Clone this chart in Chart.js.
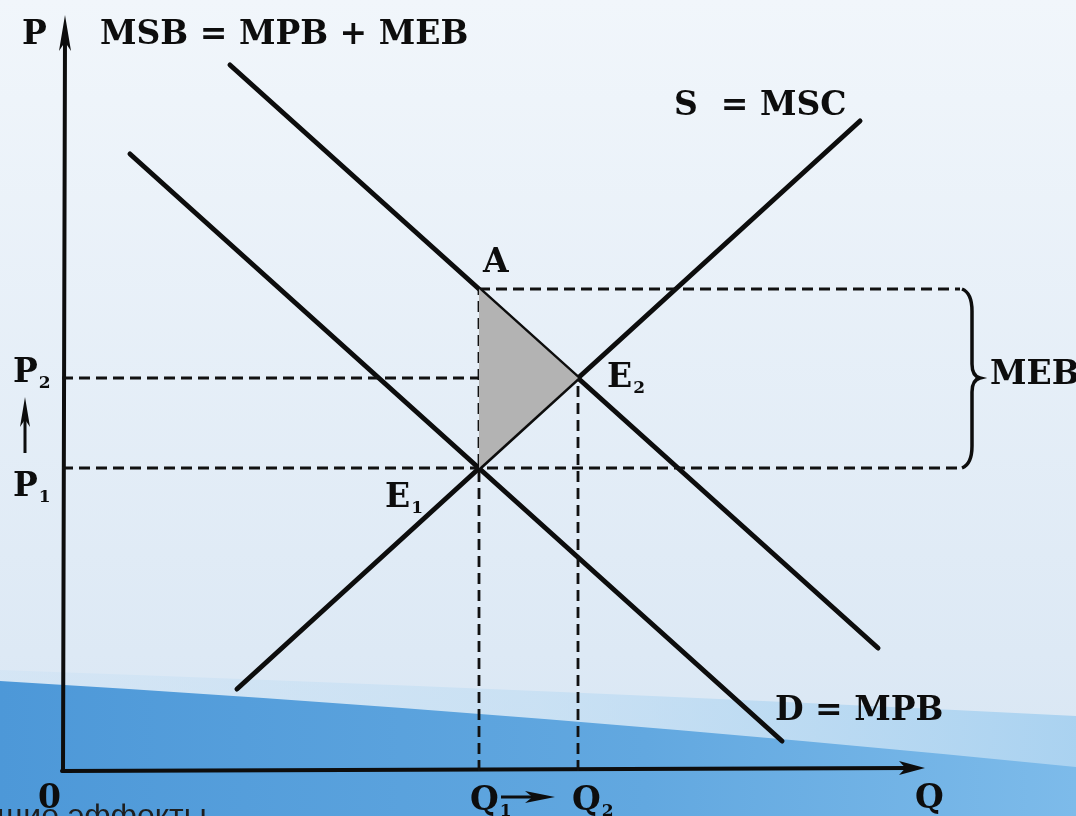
<!DOCTYPE html>
<html>
<head>
<meta charset="utf-8">
<script src="https://cdn.jsdelivr.net/npm/chart.js@4.4.1/dist/chart.umd.min.js"></script>
<style>
  html, body { margin: 0; padding: 0; background: #e6eef7; }
  #box { width: 1076px; height: 816px; }
</style>
</head>
<body>
<div id="box"><canvas id="externalityChart" width="1076" height="816"></canvas></div>
<script>
// coordinates: units from the origin 0 of the P-Q axes
const q1 = 417, q2 = 516;
const p1 = 303, p2 = 393, pA = 482;

// curves (two end points each)
const msbX = [168, 816];
const msbY = [706, 123];
const mpbX = [68, 720];
const mpbY = [617, 30];
const mscX = [175, 798];
const mscY = [82, 650];

// dashed guides
const guideRight = 898;

// axes
const axisTopY = 756;
const axisEndX = 863;

// text labels
const labels = [
  { text: 'P', x: -40, y: 727 },
  { text: 'MSB = MPB + MEB', x: 38, y: 727 },
  { text: 'S  = MSC', x: 612, y: 656 },
  { text: 'A', x: 421, y: 499 },
  { text: 'E', sub: '2', x: 545, y: 384 },
  { text: 'E', sub: '1', x: 323, y: 264 },
  { text: 'P', sub: '2', x: -49, y: 389 },
  { text: 'P', sub: '1', x: -49, y: 275 },
  { text: 'MEB', x: 928, y: 387 },
  { text: 'D = MPB', x: 713, y: 51 },
  { text: '0', x: -24, y: -37 },
  { text: 'Q', sub: '1', x: 408, y: -39 },
  { text: 'Q', sub: '2', x: 510, y: -39 },
  { text: 'Q', x: 853, y: -37 }
];

const seg = (xs, ys) => xs.map((x, i) => ({ x: x, y: ys[i] }));

const solid = (data) => ({
  data: data, showLine: true, borderColor: '#0d0d0d', borderWidth: 5,
  pointRadius: 0, borderCapStyle: 'round', fill: false
});
const dashed = (data) => ({
  data: data, showLine: true, borderColor: '#111', borderWidth: 2.8,
  borderDash: [11, 6], pointRadius: 0, fill: false
});

const backgroundPlugin = {
  id: 'background',
  beforeDraw(chart) {
    const ctx = chart.ctx;
    const w = chart.width, h = chart.height;
    ctx.save();
    const g = ctx.createLinearGradient(0, 0, 0, h);
    g.addColorStop(0, '#f1f6fb');
    g.addColorStop(0.8, '#dde9f5');
    g.addColorStop(1, '#d6e5f3');
    ctx.fillStyle = g;
    ctx.fillRect(0, 0, w, h);

    // pale streak above the wave, widening to the right
    ctx.beginPath();
    ctx.moveTo(0, 670);
    ctx.quadraticCurveTo(560, 690, w, 716);
    ctx.lineTo(w, h);
    ctx.lineTo(0, h);
    ctx.closePath();
    const g1 = ctx.createLinearGradient(0, 0, w, 0);
    g1.addColorStop(0, 'rgba(205,226,244,0.5)');
    g1.addColorStop(0.5, 'rgba(190,220,243,0.6)');
    g1.addColorStop(1, 'rgba(165,208,240,0.9)');
    ctx.fillStyle = g1;
    ctx.fill();

    // blue wave
    ctx.beginPath();
    ctx.moveTo(0, 681);
    ctx.quadraticCurveTo(538, 713, w, 767);
    ctx.lineTo(w, h);
    ctx.lineTo(0, h);
    ctx.closePath();
    const g2 = ctx.createLinearGradient(0, 0, w, 0);
    g2.addColorStop(0, '#4d98d8');
    g2.addColorStop(0.6, '#62a8e0');
    g2.addColorStop(1, '#7dbbea');
    ctx.fillStyle = g2;
    ctx.fill();
    ctx.restore();
  }
};

const notesPlugin = {
  id: 'notes',
  afterDatasetsDraw(chart) {
    const ctx = chart.ctx;
    const sx = chart.scales.x, sy = chart.scales.y;
    const X = (v) => sx.getPixelForValue(v);
    const Y = (v) => sy.getPixelForValue(v);
    ctx.save();
    ctx.fillStyle = '#0d0d0d';
    ctx.strokeStyle = '#0d0d0d';

    const head = (tx, ty, dx, dy, len, half) => {
      // arrow head with tip at (tx, ty) pointing along (dx, dy)
      ctx.beginPath();
      ctx.moveTo(tx, ty);
      ctx.lineTo(tx - dx * len - dy * half, ty - dy * len + dx * half);
      ctx.lineTo(tx - dx * len * 0.75, ty - dy * len * 0.75);
      ctx.lineTo(tx - dx * len + dy * half, ty - dy * len - dx * half);
      ctx.closePath();
      ctx.fill();
    };

    // axis arrow heads
    head(X(3), Y(axisTopY), 0, -1, 36, 6);
    head(X(axisEndX), Y(3), 1, 0, 26, 7);

    // P1 -> P2 arrow
    ctx.lineWidth = 3;
    ctx.beginPath();
    ctx.moveTo(X(-37), Y(318));
    ctx.lineTo(X(-37), Y(360));
    ctx.stroke();
    head(X(-37), Y(374), 0, -1, 30, 5);

    // Q1 -> Q2 arrow
    ctx.beginPath();
    ctx.moveTo(X(439), Y(-26));
    ctx.lineTo(X(475), Y(-26));
    ctx.stroke();
    head(X(493), Y(-26), 1, 0, 30, 6);

    // brace for MEB
    const bx = X(906), top = Y(pA), bot = Y(p1), mid = Y(p2);
    ctx.lineWidth = 3.5;
    ctx.beginPath();
    ctx.moveTo(bx - 6, top);
    ctx.quadraticCurveTo(bx + 4, top + 4, bx + 4, top + 22);
    ctx.lineTo(bx + 4, mid - 14);
    ctx.quadraticCurveTo(bx + 4, mid - 2, bx + 12, mid);
    ctx.quadraticCurveTo(bx + 4, mid + 2, bx + 4, mid + 14);
    ctx.lineTo(bx + 4, bot - 22);
    ctx.quadraticCurveTo(bx + 4, bot - 4, bx - 6, bot);
    ctx.stroke();

    // labels
    ctx.textAlign = 'left';
    ctx.textBaseline = 'alphabetic';
    labels.forEach((l) => {
      ctx.font = 'bold 33px "DejaVu Serif"';
      ctx.fillText(l.text, X(l.x), Y(l.y));
      if (l.sub) {
        const w = ctx.measureText(l.text).width;
        ctx.font = 'bold 17px "DejaVu Serif"';
        ctx.fillText(l.sub, X(l.x) + w + 1, Y(l.y) + 6);
      }
    });

    // clipped slide caption at the bottom
    ctx.font = '32px "Liberation Sans"';
    ctx.fillStyle = '#1e1e1e';
    ctx.fillText('щие эффекты', -3, 826);
    ctx.restore();
  }
};

new Chart(document.getElementById('externalityChart'), {
  type: 'scatter',
  data: {
    datasets: [
      {
        data: [{ x: q1, y: pA }, { x: q2, y: p2 }, { x: q1, y: p1 }, { x: q1, y: pA }],
        showLine: true, borderWidth: 0, pointRadius: 0,
        backgroundColor: '#b3b3b3', fill: 'shape'
      },
      dashed([{ x: q1, y: pA }, { x: guideRight, y: pA }]),
      dashed([{ x: 0, y: p2 }, { x: q2, y: p2 }]),
      dashed([{ x: 0, y: p1 }, { x: guideRight, y: p1 }]),
      dashed([{ x: q1, y: 0 }, { x: q1, y: pA }]),
      dashed([{ x: q2, y: 0 }, { x: q2, y: p2 }]),
      solid(seg(msbX, msbY)),
      solid(seg(mpbX, mpbY)),
      solid(seg(mscX, mscY)),
      Object.assign(solid([{ x: 1, y: 0 }, { x: 3, y: axisTopY - 20 }]), { borderWidth: 4 }),
      Object.assign(solid([{ x: 0, y: 0 }, { x: axisEndX - 15, y: 3 }]), { borderWidth: 4 })
    ]
  },
  options: {
    responsive: false,
    animation: false,
    layout: { padding: 0 },
    scales: {
      x: { type: 'linear', min: -62, max: 1014, display: false },
      y: { type: 'linear', min: -45, max: 771, display: false }
    },
    plugins: {
      legend: { display: false },
      tooltip: { enabled: false }
    }
  },
  plugins: [backgroundPlugin, notesPlugin]
});
</script>
</body>
</html>
